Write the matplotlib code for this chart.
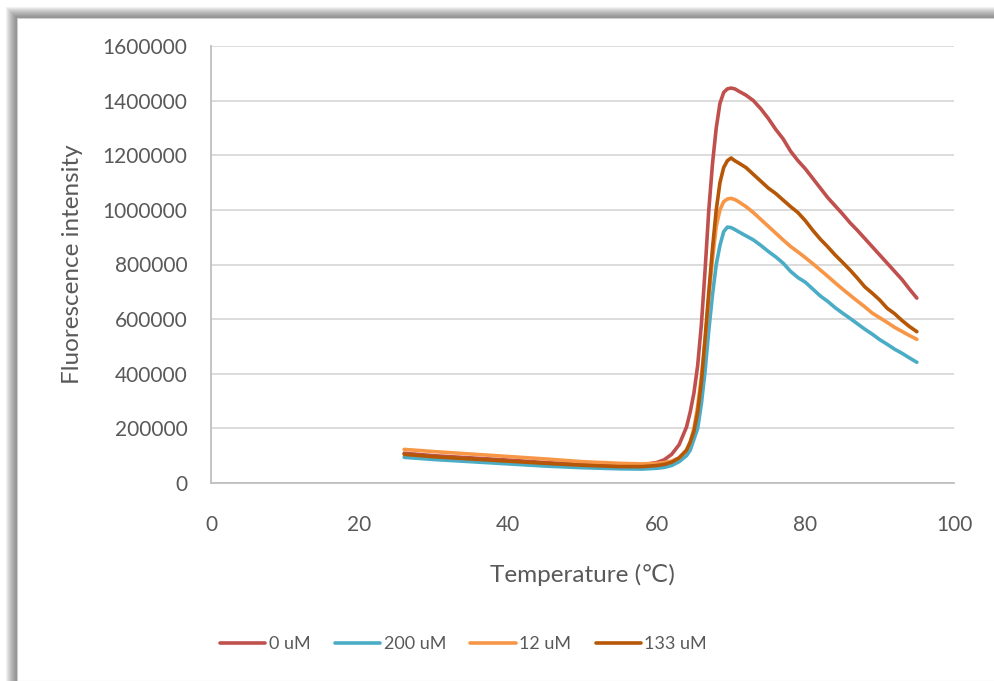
import matplotlib
matplotlib.use("Agg")
import matplotlib.pyplot as plt
from matplotlib.patches import Rectangle

# temperatures (degC) shared by all series
temp = [26, 30, 35, 40, 45, 50, 55, 58, 60, 61, 62, 63, 64, 64.5, 65, 65.5, 66, 66.5,
        67, 67.5, 68, 68.5, 69, 69.5, 70, 70.5, 71, 72, 73, 74, 75, 76, 77, 78, 79,
        80, 81, 82, 83, 84, 85, 86, 87, 88, 89, 90, 91, 92, 93, 94, 95]

fl_0uM = [109000, 100000, 92000, 84000, 75000, 68000, 65000, 66000, 75000, 85000,
          105000, 140000, 205000, 260000, 330000, 430000, 580000, 780000, 1000000,
          1170000, 1300000, 1390000, 1430000, 1443000, 1446000, 1443000, 1435000,
          1420000, 1400000, 1370000, 1335000, 1295000, 1260000, 1215000, 1180000,
          1150000, 1115000, 1080000, 1045000, 1015000, 985000, 953000, 925000,
          895000, 865000, 835000, 805000, 775000, 745000, 710000, 677000]

fl_200uM = [94000, 86000, 78000, 70000, 62000, 56000, 52000, 51000, 54000, 57000,
            64000, 78000, 100000, 120000, 160000, 200000, 290000, 410000, 560000,
            690000, 800000, 870000, 920000, 937000, 935000, 928000, 920000, 905000,
            890000, 870000, 848000, 828000, 805000, 775000, 752000, 735000, 710000,
            685000, 665000, 642000, 622000, 603000, 583000, 563000, 545000, 525000,
            508000, 490000, 475000, 458000, 442000]

fl_12uM = [123000, 115000, 106000, 97000, 88000, 78000, 72000, 70000, 72000, 75000,
           80000, 92000, 120000, 150000, 200000, 280000, 390000, 520000, 680000,
           820000, 940000, 1000000, 1030000, 1040000, 1042000, 1038000, 1030000,
           1012000, 990000, 965000, 940000, 915000, 890000, 866000, 846000, 825000,
           803000, 780000, 757000, 733000, 710000, 688000, 666000, 645000, 622000,
           605000, 588000, 570000, 555000, 540000, 526000]

fl_133uM = [105000, 96000, 88000, 80000, 72000, 65000, 60000, 60000, 64000, 68000,
            76000, 92000, 120000, 150000, 190000, 260000, 370000, 530000, 700000,
            860000, 1000000, 1100000, 1155000, 1180000, 1190000, 1180000, 1172000,
            1155000, 1130000, 1105000, 1080000, 1060000, 1036000, 1012000, 990000,
            960000, 925000, 893000, 865000, 835000, 808000, 780000, 750000, 718000,
            695000, 670000, 640000, 620000, 595000, 573000, 554000]

labels = ["0 uM", "200 uM", "12 uM", "133 uM"]
colors = ["#C0504D", "#4BACC6", "#F79646", "#B65708"]

plt.rcParams['font.family'] = ['Lato', 'DejaVu Sans']
txt = "#595959"

fig = plt.figure(figsize=(9.95, 6.81), dpi=100)
W, H = 995.0, 681.0

# shadowed chart frame
for i in range(12):
    fig.patches.append(Rectangle(((17 - i) / W, 0), 1, (H - 18 + i) / H,
                                 transform=fig.transFigure, color="#404040",
                                 alpha=0.07, lw=0, zorder=-2))
fig.patches.append(Rectangle((17 / W, 0), 1, (H - 18) / H, transform=fig.transFigure,
                             facecolor="white", edgecolor="#d0d0d0", lw=0.8, zorder=-1))

ax = fig.add_axes([211 / W, (H - 483) / H, (954 - 211) / W, (483 - 46) / H])
ax.set_zorder(2)
ax.set_facecolor("none")

for y, lab, c in zip([fl_0uM, fl_200uM, fl_12uM, fl_133uM], labels, colors):
    ax.plot(temp, y, color=c, lw=2.6, label=lab, solid_capstyle="round")

ax.set_xlim(0, 100)
ax.set_ylim(0, 1600000)
ax.set_xticks(range(0, 101, 20))
ax.set_yticks(range(0, 1600001, 200000))
ax.set_yticklabels([str(v) for v in range(0, 1600001, 200000)])
ax.grid(axis="y", color="#d9d9d9", lw=1.3)
ax.set_axisbelow(True)
for s in ["top", "right"]:
    ax.spines[s].set_visible(False)
for s in ["left", "bottom"]:
    ax.spines[s].set_color("#bfbfbf")
    ax.spines[s].set_linewidth(1.3)
ax.tick_params(length=0, labelsize=15, labelcolor=txt)
ax.tick_params(axis="y", pad=17)
ax.tick_params(axis="x", pad=23)

ax.set_xlabel("Temperature (℃)", fontsize=17.5, color=txt, labelpad=20.5)
ax.set_ylabel("Fluorescence intensity", fontsize=17.5, color=txt, labelpad=14)

leg = fig.legend(loc="center", bbox_to_anchor=(463.5 / W, (H - 644) / H), ncol=4,
                 frameon=False, fontsize=13, handlelength=2.5, handletextpad=0.2,
                 columnspacing=1.35, labelcolor=txt)
leg.set_zorder(3)

fig.savefig("out.png", dpi=100)
